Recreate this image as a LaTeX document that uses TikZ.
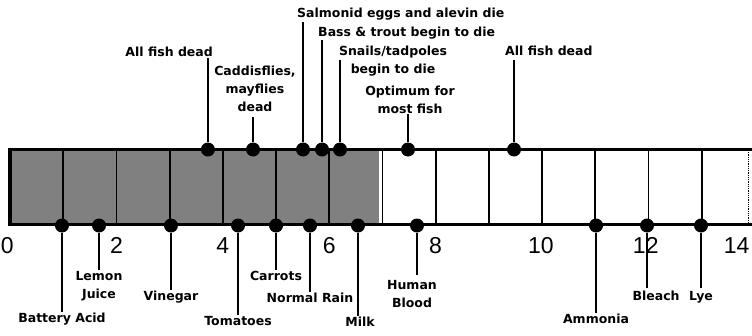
\documentclass[tikz,border=0pt]{standalone}
\usepackage{fontspec}
\setmainfont{DejaVu Sans}
\newfontfamily\numfont{Liberation Sans}
\usetikzlibrary{positioning}

\begin{document}
\begin{tikzpicture}[x=53.2pt, y=1pt,
      bead/.style = {circle, fill=black, inner sep=0pt, minimum size=14pt},
      stem/.style = {line width=2.6pt},
      cell/.style = {line width=1.8pt},
      lbl/.style  = {font=\bfseries\fontsize{12.5}{18}\selectfont, inner sep=0pt, align=center},
      num/.style  = {font=\numfont\fontsize{23}{23}\selectfont, anchor=base, inner sep=0pt} ]
    \useasboundingbox (-0.188,0) rectangle (13.947,335);
    % the pH bar
    \fill[black!50] (0.04,112) rectangle (6.93,184);
    \foreach \i in {1,...,13} \draw[cell] (\i,111) -- (\i,185);
    \draw[line width=3.2pt] (13.95,185.5) -- (0,185.5) -- (0,110.5) -- (13.95,110.5);
    \draw[densely dotted, line width=0.8pt] (13.884,110.5) -- (13.884,185.5);
    \foreach \v/\p in {0/-0.05, 2/2, 4/4, 6/6, 8/8, 10/9.98, 12/11.95, 14/13.66}
      \node[num] (n\v) at (\p,82) {\v};
    % effects on life, above the bar
    \node[bead] (t1) at (3.72,185.5) {};   \coordinate (u1) at (3.72,277);
    \node[bead] (t2) at (4.568,185.5) {};  \coordinate (u2) at (4.568,218);
    \node[bead] (t3) at (5.508,185.5) {};  \coordinate (u3) at (5.508,313);
    \node[bead] (t4) at (5.865,185.5) {};  \coordinate (u4) at (5.865,295);
    \node[bead] (t5) at (6.203,185.5) {};  \coordinate (u5) at (6.203,275);
    \node[bead] (t6) at (7.481,185.5) {};  \coordinate (u6) at (7.481,221);
    \node[bead] (t7) at (9.474,185.5) {};  \coordinate (u7) at (9.474,275);
    \foreach \k in {1,...,7} \draw[stem] (t\k) -- (u\k);
    \node[lbl, anchor=base east] (a1) at (3.816,278) {All fish dead};
    \node[lbl, anchor=north] (a2) at (4.605,269) {Caddisflies,\\mayflies\\dead};
    \node[lbl, anchor=base west] (a3) at (5.395,317) {Salmonid eggs and alevin die};
    \node[lbl, anchor=base west] (a4) at (5.79,298) {Bass \& trout begin to die};
    \node[lbl, anchor=north] (a5) at (7.2,289) {Snails/tadpoles\\begin to die};
    \node[lbl, anchor=north] (a6) at (7.519,249) {Optimum for\\most fish};
    \node[lbl, anchor=base west] (a7) at (9.305,279) {All fish dead};
    % common liquids, below the bar
    \node[bead] (b1) at (0.977,109.5) {};   \coordinate (v1) at (0.977,23);
    \node[bead] (b2) at (1.673,109.5) {};   \coordinate (v2) at (1.673,65);
    \node[bead] (b3) at (3.026,109.5) {};   \coordinate (v3) at (3.026,45);
    \node[bead] (b4) at (4.286,109.5) {};   \coordinate (v4) at (4.286,20);
    \node[bead] (b5) at (5.0,109.5) {};     \coordinate (v5) at (5.0,65);
    \node[bead] (b6) at (5.639,109.5) {};   \coordinate (v6) at (5.639,43);
    \node[bead] (b7) at (6.541,109.5) {};   \coordinate (v7) at (6.541,19);
    \node[bead] (b8) at (7.65,109.5) {};    \coordinate (v8) at (7.65,60);
    \node[bead] (b9) at (11.015,109.5) {};  \coordinate (v9) at (11.015,22);
    \node[bead] (b10) at (11.974,109.5) {}; \coordinate (v10) at (11.974,47);
    \node[bead] (b11) at (12.989,109.5) {}; \coordinate (v11) at (12.989,47);
    \foreach \k in {1,...,11} \draw[stem] (b\k) -- (v\k);
    \node[lbl, below=1pt of v1] (c1) {Battery Acid};
    \node[lbl, below=1pt of v2] (c2) {Lemon\\Juice};
    \node[lbl, below=1pt of v3] (c3) {Vinegar};
    \node[lbl, below=1pt of v4] (c4) {Tomatoes};
    \node[lbl, below=1pt of v5] (c5) {Carrots};
    \node[lbl, below=1pt of v6] (c6) {Normal Rain};
    \node[lbl, below=1pt of v7, xshift=2pt] (c7) {Milk};
    \node[lbl, below=5pt of v8, xshift=-5pt] (c8) {Human\\Blood};
    \node[lbl, below=1pt of v9] (c9) {Ammonia};
    \node[lbl, below=3pt of v10, xshift=9pt] (c10) {Bleach};
    \node[lbl, below=3pt of v11] (c11) {Lye};
  \end{tikzpicture}
\end{document}
